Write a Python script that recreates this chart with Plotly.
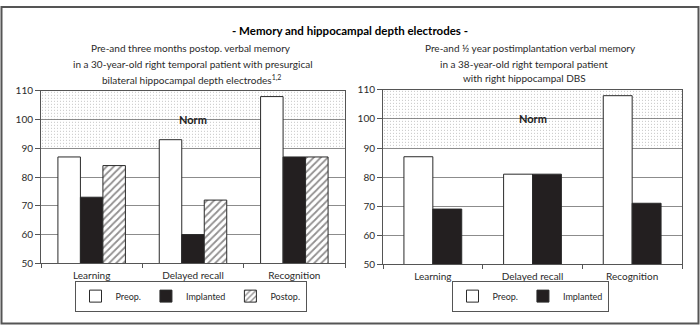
import plotly.graph_objects as go

# Test categories
categories = ["Learning", "Delayed recall", "Recognition"]

# Left panel: depth-electrode patient (pre, implanted, postop)
left_preop = [87, 93, 108]
left_implanted = [73, 60, 87]
left_postop = [84, 72, 87]

# Right panel: DBS patient (pre, implanted)
right_preop = [87, 81, 108]
right_implanted = [69, 81, 71]

# Normal range band
norm_range = [90, 110]
y_range = [50, 110]

FONT = "Lato, sans-serif"
INK = "#2a2a2a"
DARK = "#231f20"
FRAME = "#555555"
GRID = "#8c8c8c"

fig = go.Figure()

# Stippled norm band, drawn on the base (numeric) axes so bars sit above it
for xa, ya in (("x", "y"), ("x2", "y2")):
    fig.add_trace(go.Scatter(
        x=[0, 1, 1, 0, 0],
        y=[norm_range[0], norm_range[0], norm_range[1], norm_range[1], norm_range[0]],
        xaxis=xa, yaxis=ya, mode="lines", line=dict(width=0),
        fill="toself", fillcolor="rgba(0,0,0,0)",
        fillpattern=dict(shape=".", fgcolor="#777777", bgcolor="rgba(0,0,0,0)",
                         size=3, solidity=0.12),
        showlegend=False, hoverinfo="skip",
    ))

bar_line = dict(color=INK, width=1)

# Left panel bars (three per group)
w3 = 0.222
fig.add_trace(go.Bar(x=categories, y=left_preop, name="Preop.", xaxis="x3", yaxis="y",
                     offset=-1.5 * w3, width=w3, marker=dict(color="white", line=bar_line),
                     legend="legend"))
fig.add_trace(go.Bar(x=categories, y=left_implanted, name="Implanted", xaxis="x3", yaxis="y",
                     offset=-0.5 * w3, width=w3, marker=dict(color=DARK, line=bar_line),
                     legend="legend"))
fig.add_trace(go.Bar(x=categories, y=left_postop, name="Postop.", xaxis="x3", yaxis="y",
                     offset=0.5 * w3, width=w3,
                     marker=dict(color="white", line=bar_line,
                                 pattern=dict(shape="/", fgcolor=DARK, bgcolor="white",
                                              size=5, solidity=0.35)),
                     legend="legend"))

# Right panel bars (two per group)
w2 = 0.29
fig.add_trace(go.Bar(x=categories, y=right_preop, name="Preop.", xaxis="x4", yaxis="y2",
                     offset=-w2, width=w2, marker=dict(color="white", line=bar_line),
                     legend="legend2"))
fig.add_trace(go.Bar(x=categories, y=right_implanted, name="Implanted", xaxis="x4", yaxis="y2",
                     offset=0, width=w2, marker=dict(color=DARK, line=bar_line),
                     legend="legend2"))

W, H = 700, 332
left_dom = [41 / W, 345 / W]
right_dom = [383 / W, 682 / W]
left_ydom = [1 - 267 / H, 1 - 88 / H]
right_ydom = [1 - 268 / H, 1 - 87 / H]

tick_font = dict(family=FONT, size=10, color=INK)

yaxis_common = dict(range=y_range, dtick=10, showgrid=True, gridcolor=GRID, gridwidth=1,
                    showline=True, linecolor=FRAME, linewidth=1, mirror=True,
                    ticks="outside", ticklen=5, tickcolor=FRAME, zeroline=False,
                    tickfont=tick_font, fixedrange=True)
base_x = dict(range=[0, 1], showgrid=False, showticklabels=False, ticks="",
              showline=True, linecolor=FRAME, linewidth=1, mirror=True, zeroline=False)
cat_x = dict(type="category", showgrid=False, showline=False, ticks="outside",
             tickson="boundaries", ticklen=4, tickcolor=FRAME, tickfont=tick_font,
             ticklabelstandoff=5)

legend_common = dict(orientation="h", xanchor="center", yanchor="middle",
                     bordercolor=FRAME, borderwidth=1,
                     font=dict(family=FONT, size=9, color=INK), itemwidth=30,
                     traceorder="normal")

fig.update_layout(
    width=W, height=H,
    margin=dict(l=0, r=0, t=0, b=0),
    paper_bgcolor="white", plot_bgcolor="rgba(0,0,0,0)",
    barmode="overlay",
    font=dict(family=FONT, size=10, color=INK),
    xaxis=dict(domain=left_dom, anchor="y", **base_x),
    xaxis2=dict(domain=right_dom, anchor="y2", **base_x),
    xaxis3=dict(domain=left_dom, anchor="y", overlaying="x", **cat_x),
    xaxis4=dict(domain=right_dom, anchor="y2", overlaying="x2", **cat_x),
    yaxis=dict(domain=left_ydom, anchor="x", **yaxis_common),
    yaxis2=dict(domain=right_ydom, anchor="x2", **yaxis_common),
    legend=dict(x=(93 + 288) / 2 / W, y=1 - 301 / H, **legend_common),
    legend2=dict(x=(467 + 593) / 2 / W, y=1 - 301 / H, **legend_common),
)

annotations = [
    dict(text="<b>- Memory and hippocampal depth electrodes -</b>", x=350 / W, y=1 - 25 / H,
         font=dict(family=FONT, size=11.5, color="black")),
    dict(text="Pre-and three months postop. verbal memory", x=191 / W, y=1 - 44 / H),
    dict(text="in a 30-year-old right temporal patient with presurgical", x=193 / W, y=1 - 60 / H),
    dict(text="bilateral hippocampal depth electrodes<sup>1,2</sup>", x=191 / W, y=1 - 76 / H),
    dict(text="Pre-and ½ year postimplantation verbal memory", x=530 / W, y=1 - 44 / H),
    dict(text="in a 38-year-old right temporal patient", x=524 / W, y=1 - 60 / H),
    dict(text="with right hippocampal DBS", x=524 / W, y=1 - 75 / H),
]
for a in annotations:
    a.setdefault("font", dict(family=FONT, size=10, color=INK))
    fig.add_annotation(xref="paper", yref="paper", xanchor="center", yanchor="middle",
                       showarrow=False, **a)

# "Norm" labels centred in each band
for xref, yref in (("x domain", "y"), ("x2 domain", "y2")):
    fig.add_annotation(text="<b>Norm</b>", xref=xref, yref=yref, x=0.5, y=100,
                       showarrow=False, font=dict(family=FONT, size=11, color="#222"))

# Outer frame
fig.add_shape(type="rect", xref="paper", yref="paper", x0=1.5 / W, x1=1 - 1.5 / W,
              y0=2.5 / H, y1=1 - 1 / H, line=dict(color=FRAME, width=2))

fig.write_html("out.html")
